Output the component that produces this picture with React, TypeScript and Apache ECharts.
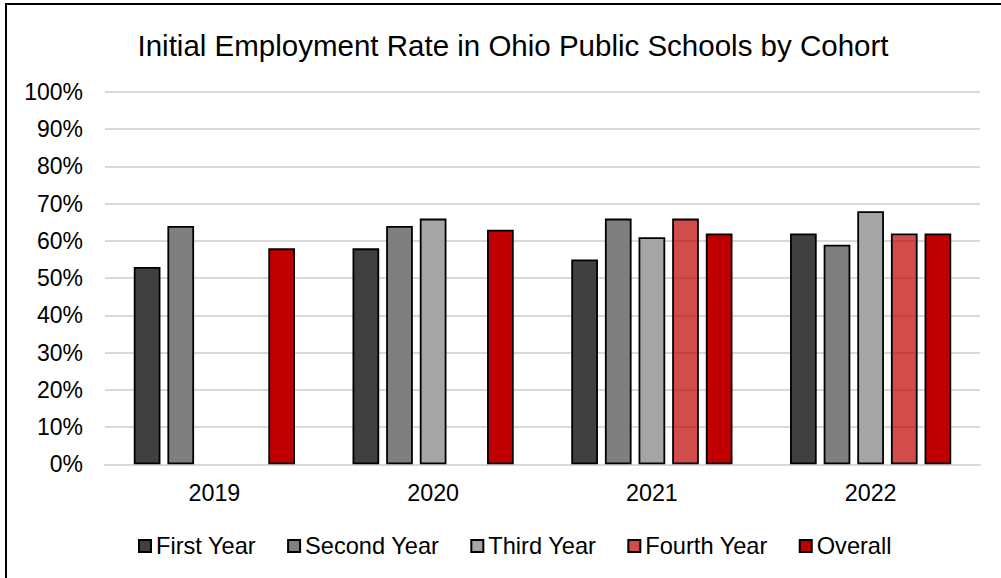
import React, { useEffect, useRef } from "react";
import * as echarts from "echarts";

const categories = ["2019", "2020", "2021", "2022"];
const firstYear = [53, 58, 55, 62];
const secondYear = [64, 64, 66, 59];
const thirdYear: (number | null)[] = [null, 66, 61, 68];
const fourthYear: (number | null)[] = [null, null, 66, 62];
const overall = [58, 63, 62, 62];
const yTicks = [0, 10, 20, 30, 40, 50, 60, 70, 80, 90, 100];

const FONT = "'Liberation Sans', Arial, sans-serif";

export default function App() {
  const ref = useRef<HTMLDivElement>(null);
  useEffect(() => {
    if (!ref.current) return;
    const chart = echarts.init(ref.current, undefined, { renderer: "svg" });
    const mk = (name: string, data: (number | null)[], color: string) => ({
      name,
      type: "bar",
      data: data.map((v) => (v === null ? "-" : v)),
      barGap: "26%",
      barCategoryGap: "26.3%",
      itemStyle: { color, borderColor: "#000", borderWidth: 1.8 },
    });
    chart.setOption({
      animation: false,
      backgroundColor: "#fff",
      textStyle: { fontFamily: FONT },
      title: {
        text: "Initial Employment Rate in Ohio Public Schools by Cohort",
        left: 508,
        top: 25,
        textAlign: "center",
        textStyle: { fontFamily: FONT, fontSize: 29.5, fontWeight: "normal", color: "#000", lineHeight: 30 },
      },
      graphic: [
        {
          type: "rect",
          silent: true,
          shape: { x: 6, y: 4, width: 1100, height: 700 },
          style: { fill: "none", stroke: "#000", lineWidth: 2 },
        },
      ],
      legend: {
        left: 133,
        top: 529,
        itemWidth: 12,
        itemHeight: 12,
        itemGap: 31,
        icon: "rect",
        textStyle: { fontFamily: FONT, fontSize: 23.6, color: "#000", lineHeight: 24 },
        data: ["First Year", "Second Year", "Third Year", "Fourth Year", "Overall"],
      },
      grid: { left: 105, right: 21, top: 92, bottom: 113.7 },
      xAxis: {
        type: "category",
        data: categories,
        axisTick: { show: false },
        axisLine: { lineStyle: { color: "#d9d9d9", width: 2 } },
        axisLabel: { fontFamily: FONT, fontSize: 23.3, color: "#000", margin: 17 },
      },
      yAxis: {
        type: "value",
        min: yTicks[0],
        max: yTicks[yTicks.length - 1],
        interval: 10,
        axisLine: { show: false },
        axisTick: { show: false },
        splitLine: { lineStyle: { color: "#d9d9d9", width: 2 } },
        axisLabel: { fontFamily: FONT, fontSize: 23, color: "#000", margin: 22, formatter: "{value}%" },
      },
      series: [
        mk("First Year", firstYear, "#404040"),
        mk("Second Year", secondYear, "#7f7f7f"),
        mk("Third Year", thirdYear, "#a5a5a5"),
        mk("Fourth Year", fourthYear, "rgba(192,0,0,0.7)"),
        mk("Overall", overall, "#c00000"),
      ],
    });
    return () => chart.dispose();
  }, []);
  return <div ref={ref} style={{ position: "absolute", left: 0, top: 0, width: 1001, height: 578 }} />;
}
